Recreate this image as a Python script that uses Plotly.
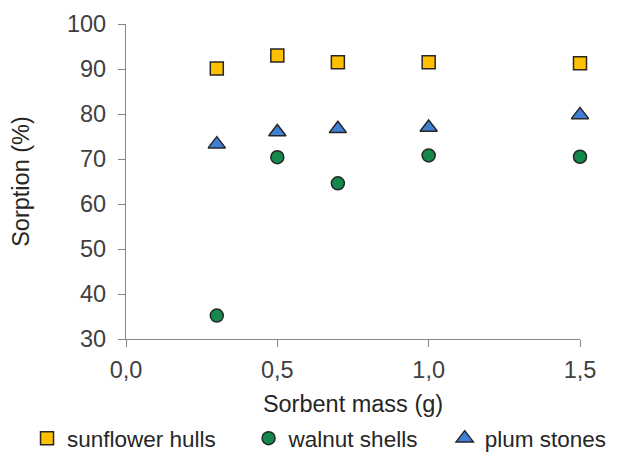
import plotly.graph_objects as go

mass = [0.3, 0.5, 0.7, 1.0, 1.5]
sunflower = [90.1, 93.0, 91.5, 91.5, 91.3]
walnut = [35.2, 70.4, 64.6, 70.8, 70.5]
plum = [73.3, 76.0, 76.7, 77.0, 79.8]

FS = 23.5
LFS = 22.5

fig = go.Figure()
fig.add_trace(go.Scatter(x=mass, y=sunflower, mode="markers", name="sunflower hulls",
                         cliponaxis=False, legend="legend",
                         marker=dict(symbol="square", size=13, color="#FFC000",
                                     line=dict(color="#262626", width=1.5))))
fig.add_trace(go.Scatter(x=mass, y=walnut, mode="markers", name="walnut shells",
                         cliponaxis=False, legend="legend2",
                         marker=dict(symbol="circle", size=13, color="#138A4C",
                                     line=dict(color="#262626", width=1.5))))
fig.add_trace(go.Scatter(x=mass, y=plum, mode="markers", name="plum stones",
                         cliponaxis=False, legend="legend3",
                         marker=dict(symbol="triangle-up", size=15, color="#3F7FD4",
                                     line=dict(color="#262626", width=1.5))))

leg_common = dict(orientation="h", yanchor="middle", y=-0.316, xanchor="left",
                  font=dict(size=LFS, color="#262626"), itemwidth=30,
                  bgcolor="rgba(0,0,0,0)")

fig.update_layout(
    width=612, height=445,
    margin=dict(l=118, r=40, t=16, b=114, autoexpand=False),
    paper_bgcolor="white", plot_bgcolor="white",
    font=dict(family="Liberation Sans, Arial, sans-serif", size=FS, color="#404040"),
    separators=",.",
    showlegend=True,
    legend=dict(x=-0.218, **leg_common),
    legend2=dict(x=0.27, **leg_common),
    legend3=dict(x=0.702, **leg_common),
    xaxis=dict(range=[0, 1.5], tickvals=[0, 0.5, 1.0, 1.5], tickformat=".1f",
               automargin=False,
               showgrid=False, zeroline=False, showline=True, linecolor="#868686",
               linewidth=1.2, ticks="outside", ticklen=7, tickcolor="#868686",
               ticklabelstandoff=3,
               title=dict(text="Sorbent mass (g)", font=dict(size=FS, color="#262626"), standoff=13),
               tickfont=dict(size=FS, color="#404040")),
    yaxis=dict(range=[30, 100], tickvals=[30, 40, 50, 60, 70, 80, 90, 100],
               automargin=False,
               showgrid=False, zeroline=False, showline=True, linecolor="#868686",
               linewidth=1.2, ticks="outside", ticklen=7, tickcolor="#868686",
               ticklabelstandoff=7,
               title=dict(text="Sorption (%)", font=dict(size=FS, color="#262626"), standoff=31),
               tickfont=dict(size=FS, color="#404040")),
)

fig.write_html("out.html")
